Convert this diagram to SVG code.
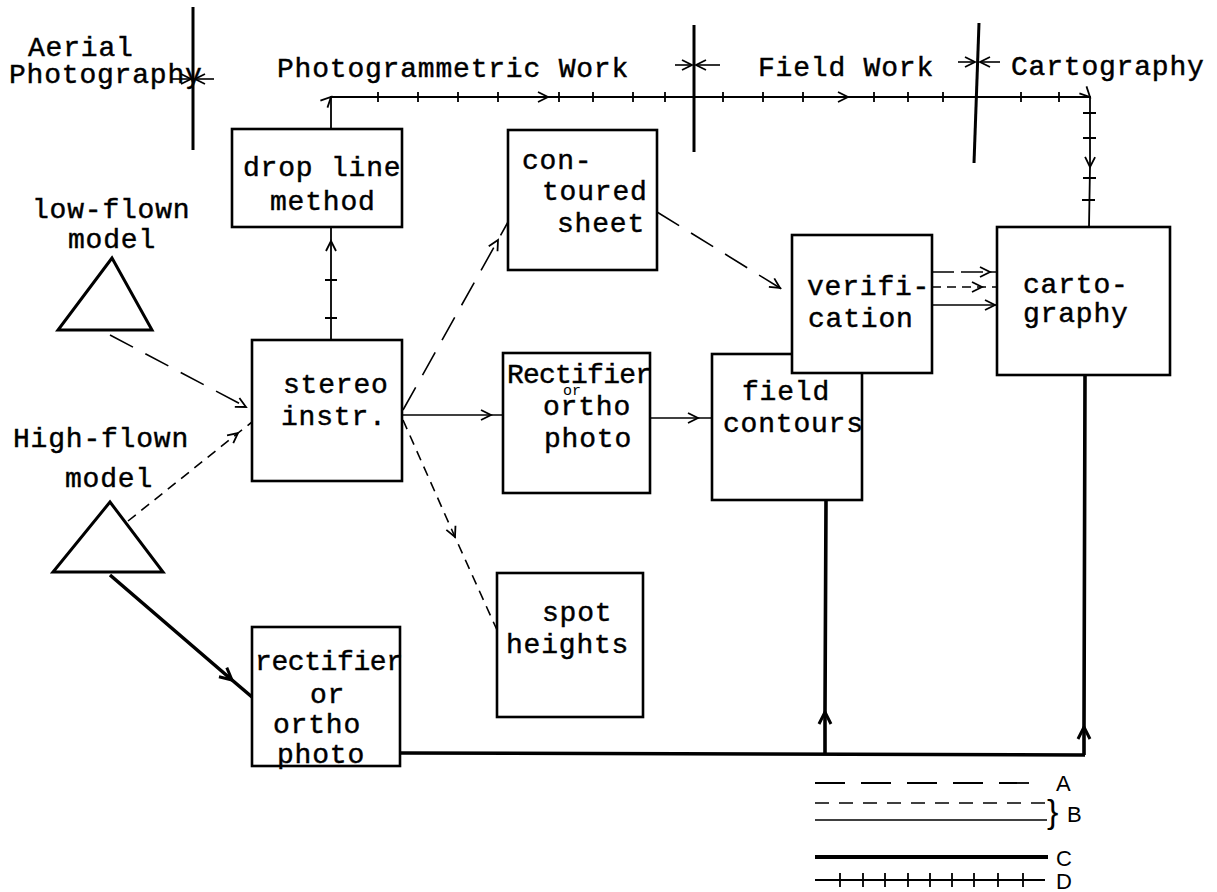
<svg xmlns="http://www.w3.org/2000/svg" width="1217" height="892" viewBox="0 0 1217 892">
<style>
.t{font-family:"Liberation Mono","DejaVu Sans Mono",monospace;font-size:28px;letter-spacing:0.8px;fill:#000;stroke:#000;stroke-width:0.45}
.s{font-family:"Liberation Mono","DejaVu Sans Mono",monospace;font-size:15px;fill:#000}
.lg{font-family:"Liberation Sans","DejaVu Sans",sans-serif;font-size:22px;fill:#000}
.box{fill:#fff;stroke:#000;stroke-width:2.6}
.tri{fill:none;stroke:#000;stroke-width:3;stroke-linejoin:miter}
.div{stroke:#000;stroke-width:3;fill:none}
.ln{fill:none;stroke:#000;stroke-width:1.6}
.a{stroke-dasharray:26 14}
.b{stroke-dasharray:10 7}
.c{fill:none;stroke:#000;stroke-width:3.6}
.d{fill:none;stroke:#000;stroke-width:1.8}
</style>
<defs>
<marker id="ah" markerUnits="userSpaceOnUse" viewBox="-12 -8 14 16" markerWidth="14" markerHeight="16" refX="0" refY="0" orient="auto" overflow="visible">
<path d="M-10,-5 L0,0 L-10,5" fill="none" stroke="#000" stroke-width="1.8" stroke-dasharray="none"/>
</marker>
<marker id="ahb" markerUnits="userSpaceOnUse" viewBox="-14 -9 16 18" markerWidth="16" markerHeight="18" refX="0" refY="0" orient="auto" overflow="visible">
<path d="M-12,-6 L0,0 L-12,6" fill="none" stroke="#000" stroke-width="3" stroke-dasharray="none"/>
</marker>
</defs>

<g id="headers">
<text class="t" x="28" y="56">Aerial</text>
<text class="t" x="9" y="83">Photography</text>
<text class="t" x="277" y="77">Photogrammetric Work</text>
<text class="t" x="758" y="76">Field Work</text>
<text class="t" x="1011" y="75">Cartography</text>
<path class="div" d="M193,7 V150"/>
<path class="div" d="M694,25 V152"/>
<path class="div" d="M979,23 L974,163"/>
<path class="ln" d="M172,79 H191" marker-end="url(#ah)"/>
<path class="ln" d="M214,79 H195" marker-end="url(#ah)"/>
<path class="ln" d="M675,65 H692" marker-end="url(#ah)"/>
<path class="ln" d="M720,65 H696" marker-end="url(#ah)"/>
<path class="ln" d="M958,62 H975" marker-end="url(#ah)"/>
<path class="ln" d="M1000,62 H980" marker-end="url(#ah)"/>
</g>

<g id="connectors">
<path class="d" d="M331,129 V97 H548 L848,97 H1090 V167 L1089,227" marker-mid="url(#ah)"/>
<path class="d" d="M378,92v10M418,92v10M458,92v10M498,92v10M559,92v10M593,92v10M633,92v10M665,92v10M723,92v10M763,92v10M803,92v10M874,92v10M908,92v10M943,92v10M1021,92v10M1059,92v10M1083,113h13M1083,138h13M1083,178h13M1082,200h13"/>
<path class="d" d="M331,340 V241 V227" marker-mid="url(#ah)"/>
<path class="d" d="M325,280h12M325,318h12"/>
<path class="ln a" d="M110,335 L246,407 L252,410" marker-mid="url(#ah)"/>
<path class="ln b" d="M128,521 L238,433 L252,422" marker-mid="url(#ah)"/>
<path class="c" d="M110,575 L232,680 L252,697" marker-mid="url(#ahb)"/>
<path class="ln a" d="M403,410 L498,240 L508,222" marker-mid="url(#ah)"/>
<path class="ln" d="M403,415 L491,415 L503,415" marker-mid="url(#ah)"/>
<path class="ln b" d="M403,420 L455,537 L497,630" marker-mid="url(#ah)"/>
<path class="ln a" d="M657,212 L780,288 L792,296" marker-mid="url(#ah)"/>
<path class="ln" d="M650,418 L698,418 L712,418" marker-mid="url(#ah)"/>
<path class="ln" style="stroke-dasharray:22 7" d="M932,272 L990,272 L997,272" marker-mid="url(#ah)"/>
<path class="ln" style="stroke-dasharray:9 6" d="M932,287 L982,287 L997,287" marker-mid="url(#ah)"/>
<path class="ln" d="M932,305 L995,305 L997,305" marker-mid="url(#ah)"/>
<path class="c" d="M400,753 L1085,755"/>
<path class="c" d="M825,754 L825,712 L826,500" marker-mid="url(#ahb)"/>
<path class="c" d="M1084,755 L1084,727 L1085,375" marker-mid="url(#ahb)"/>
</g>

<g id="low-flown">
<text class="t" x="32" y="218">low-flown</text>
<text class="t" x="68" y="248">model</text>
<path class="tri" d="M112,258 L58,330 L152,330 Z"/>
</g>

<g id="high-flown">
<text class="t" x="13" y="447">High-flown</text>
<text class="t" x="65" y="487">model</text>
<path class="tri" d="M110,502 L53,572 L163,572 Z"/>
</g>

<g id="drop-line">
<rect class="box" x="232" y="129" width="170" height="98"/>
<text class="t" x="243" y="176">drop line</text>
<text class="t" x="270" y="210">method</text>
</g>

<g id="stereo">
<rect class="box" x="252" y="340" width="150" height="141"/>
<text class="t" x="283" y="393">stereo</text>
<text class="t" x="281" y="425">instr.</text>
</g>

<g id="contoured-sheet">
<rect class="box" x="508" y="130" width="149" height="140"/>
<text class="t" x="522" y="169">con-</text>
<text class="t" x="542" y="200">toured</text>
<text class="t" x="557" y="232">sheet</text>
</g>

<g id="rectifier-upper">
<rect class="box" x="503" y="353" width="147" height="140"/>
<text class="t" style="letter-spacing:0" x="507" y="383" textLength="145" lengthAdjust="spacing">Rectifier</text>
<text class="s" x="563" y="395">or</text>
<text class="t" x="543" y="415">ortho</text>
<text class="t" x="544" y="447">photo</text>
</g>

<g id="spot-heights">
<rect class="box" x="497" y="573" width="146" height="144"/>
<text class="t" x="542" y="621">spot</text>
<text class="t" x="506" y="653">heights</text>
</g>

<g id="field-contours">
<rect class="box" x="712" y="354" width="150" height="146"/>
<text class="t" x="742" y="400">field</text>
<text class="t" x="723" y="432">contours</text>
</g>

<g id="verification">
<rect class="box" x="792" y="235" width="140" height="138"/>
<text class="t" x="807" y="295">verifi-</text>
<text class="t" x="808" y="327">cation</text>
</g>

<g id="cartography">
<rect class="box" x="997" y="227" width="173" height="148"/>
<text class="t" x="1023" y="293">carto-</text>
<text class="t" x="1023" y="322">graphy</text>
</g>

<g id="rectifier-lower">
<rect class="box" x="252" y="627" width="148" height="139"/>
<text class="t" style="letter-spacing:0" x="255" y="670" textLength="148" lengthAdjust="spacing">rectifier</text>
<text class="t" x="310" y="703">or</text>
<text class="t" x="273" y="733">ortho</text>
<text class="t" x="277" y="763">photo</text>
</g>

<g id="legend">
<path class="ln" style="stroke-dasharray:30 16;stroke-width:1.8" d="M815,783 H1045"/>
<path class="ln" style="stroke-dasharray:14 10" d="M815,803 H1045"/>
<path class="ln" d="M815,820 H1047"/>
<path class="c" style="stroke-width:4" d="M815,857 H1048"/>
<path class="d" d="M815,880 H1045M840,873v14M863,873v14M885,873v14M908,873v14M930,873v14M952,873v14M974,873v14M998,873v14M1023,873v14"/>
<text class="lg" x="1056" y="791">A</text>
<text class="lg" style="font-size:34px" x="1047" y="823">}</text>
<text class="lg" x="1067" y="822">B</text>
<text class="lg" x="1056" y="866">C</text>
<text class="lg" x="1056" y="889">D</text>
</g>
</svg>
